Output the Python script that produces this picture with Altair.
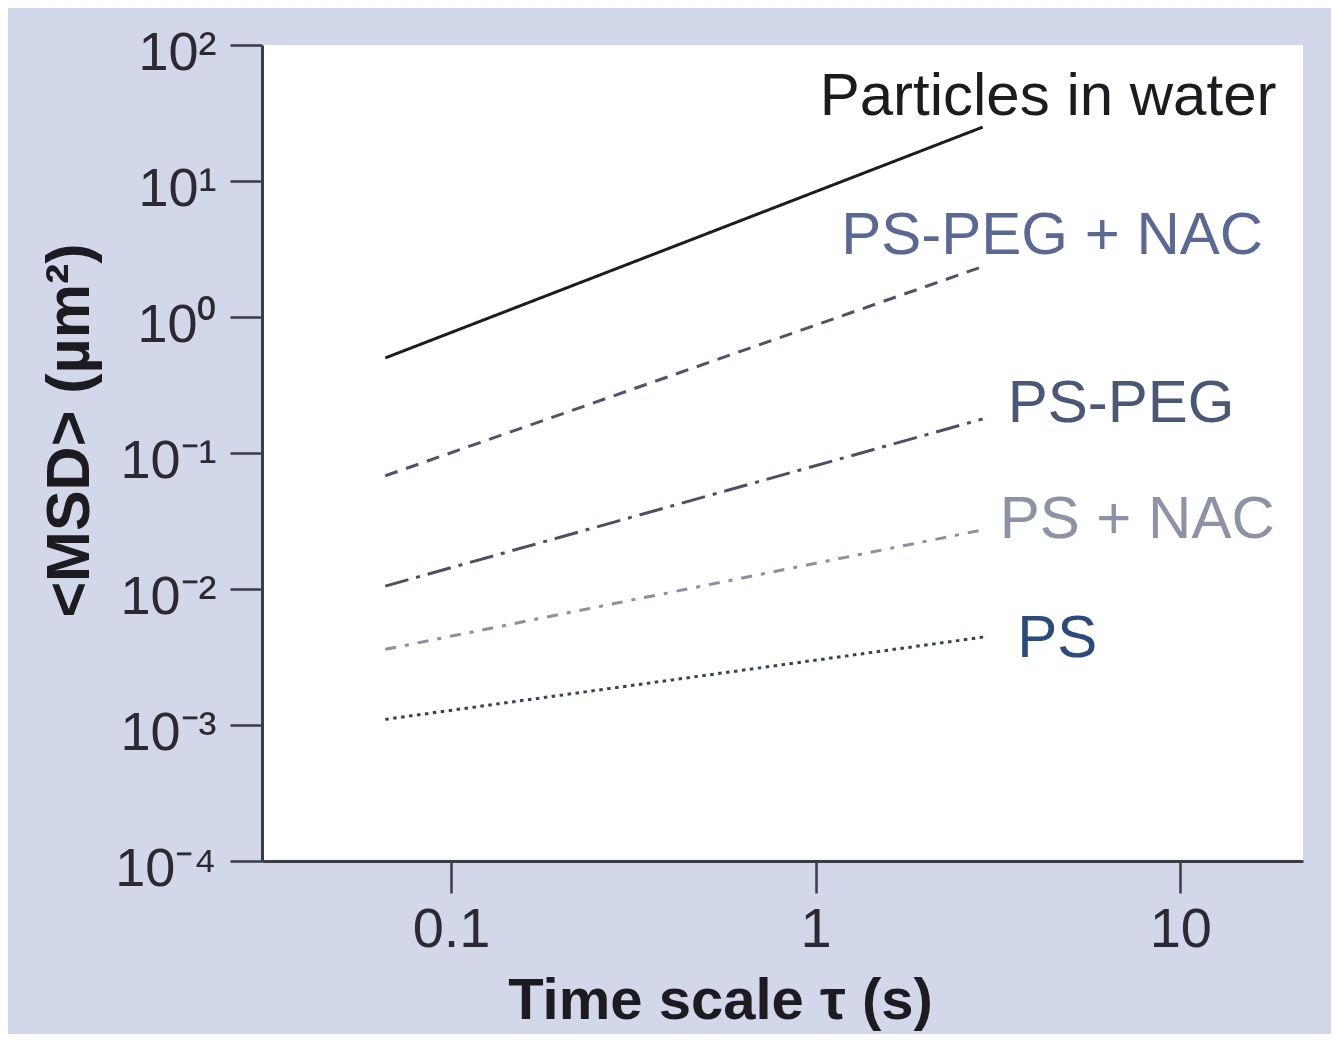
import altair as alt
import pandas as pd

# ---- data ----
series = ["Particles in water", "PS-PEG + NAC", "PS-PEG", "PS + NAC", "PS"]
tau_start = [0.066, 0.066, 0.066, 0.066, 0.066]
tau_end = [2.87, 2.90, 2.87, 2.87, 2.90]
msd_start = [0.50, 0.068, 0.0105, 0.0036, 0.0011]
msd_end = [24.9, 2.37, 0.178, 0.0272, 0.00444]

y_ticks = [1e-4, 1e-3, 1e-2, 1e-1, 1e0, 1e1, 1e2]
y_tick_labels = ["10⁻⁴", "10⁻³", "10⁻²", "10⁻¹", "10⁰", "10¹", "10²"]
x_ticks = [0.1, 1, 10]
x_domain = [0.0303, 21.7]
y_domain = [1e-4, 1e2]

# ---- styles ----
line_colors = ["#1c1c20", "#4f5568", "#4b5164", "#8b90a0", "#39415a"]
text_colors = ["#1c1c20", "#5a6894", "#4a5878", "#8d93a7", "#2b4b7c"]
dashes = [[1, 0], [13, 9], [24, 8, 4, 8], [11, 9, 4, 9], [3.5, 4.5]]
label_dx = [-163, -143, 25, 17, 33]
label_dy = [-30, -30, -15, -10, 2]

FONT = "Liberation Sans"

rows = []
for s, t0, t1, m0, m1 in zip(series, tau_start, tau_end, msd_start, msd_end):
    rows.append({"series": s, "tau": t0, "msd": m0, "end": False})
    rows.append({"series": s, "tau": t1, "msd": m1, "end": True})
df = pd.DataFrame(rows)

label_arr = "[" + ",".join("'" + l + "'" for l in y_tick_labels) + "]"

x_enc = alt.X(
    "tau:Q",
    scale=alt.Scale(type="log", domain=x_domain, nice=False),
    axis=alt.Axis(
        values=x_ticks,
        format="~g",
        title="Time scale τ (s)",
        titleFontSize=58,
        titleFontWeight="bold",
        titleFont=FONT,
        titleColor="#1c1c20",
        titleX=458,
        titleY=140,
        titleAlign="center",
        titleBaseline="middle",
        labelFontSize=56,
        labelFont=FONT,
        labelColor="#2a2a30",
        labelPadding=9,
        tickSize=32,
        tickWidth=2.5,
        tickColor="#3a3d48",
        domainColor="#3a3d48",
        domainWidth=3,
        grid=False,
    ),
)
y_enc = alt.Y(
    "msd:Q",
    scale=alt.Scale(type="log", domain=y_domain, nice=False),
    axis=alt.Axis(
        values=y_ticks,
        labelExpr=label_arr + "[round(log(datum.value)/LN10)+4]",
        title="<MSD> (µm²)",
        titleFontSize=61,
        titleFontWeight="bold",
        titleFont=FONT,
        titleColor="#1c1c20",
        titleAngle=270,
        titleX=-192,
        titleY=385,
        titleAlign="center",
        titleBaseline="middle",
        labelFontSize=54,
        labelFont=FONT,
        labelColor="#2a2a30",
        labelPadding=14,
        labelOffset=8,
        tickSize=32,
        tickWidth=2.5,
        tickColor="#3a3d48",
        domainColor="#3a3d48",
        domainWidth=3,
        grid=False,
    ),
)

layers = []
for i, s in enumerate(series):
    sub = df[df["series"] == s]
    line = alt.Chart(sub).mark_line(
        color=line_colors[i], strokeWidth=3, strokeDash=dashes[i]
    ).encode(x=x_enc, y=y_enc)
    text = alt.Chart(sub[sub["end"]]).mark_text(
        align="left", baseline="middle", fontSize=60, font=FONT,
        color=text_colors[i], dx=label_dx[i], dy=label_dy[i],
    ).encode(x="tau:Q", y="msd:Q", text="series:N")
    layers += [line, text]

chart = alt.layer(*layers).properties(
    width=1041,
    height=816,
    background="#d2d8ea",
    padding={"left": 254, "top": 37, "right": 28, "bottom": 173},
    autosize=alt.AutoSizeParams(type="none"),
).configure_view(fill="white", stroke=None)

chart.save("out.html", embed_options={"renderer": "svg", "actions": False})
